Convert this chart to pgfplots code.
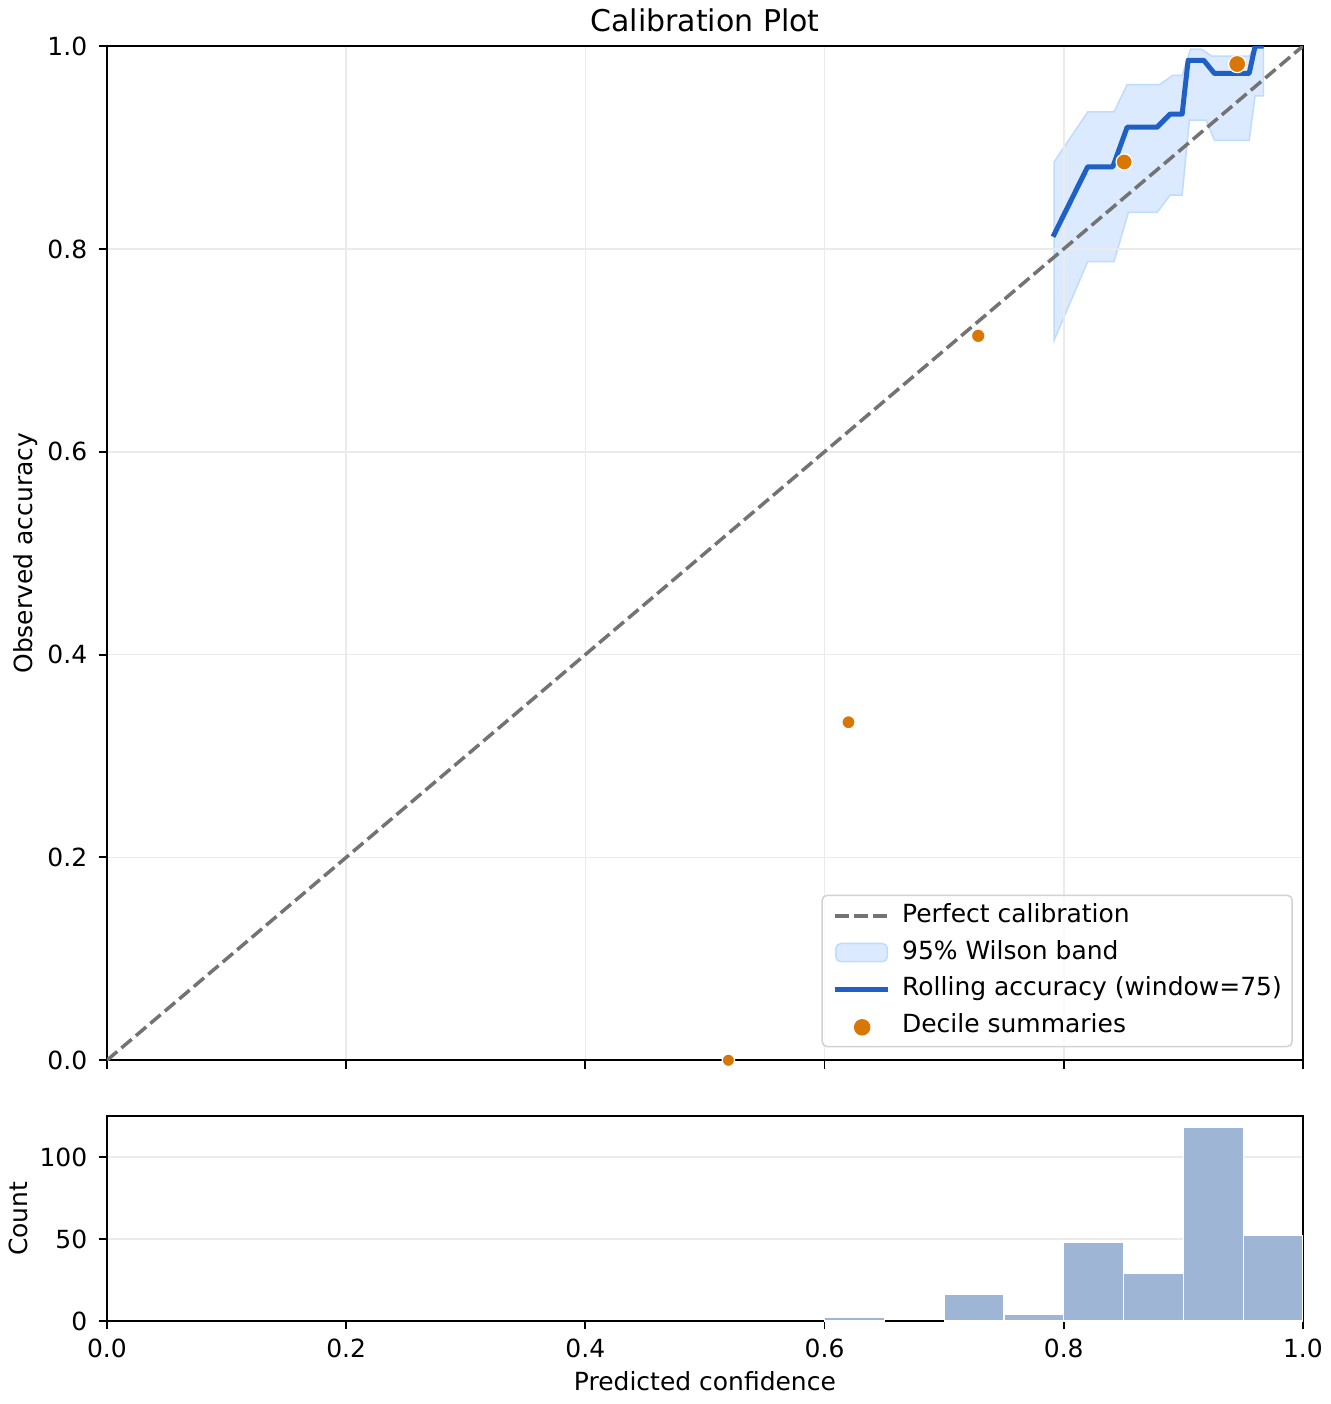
\documentclass[border=0pt]{standalone}
\usepackage{fontspec}
\setmainfont{DejaVu Sans}
\usepackage{pgfplots}
\pgfplotsset{compat=1.18}
\usepgfplotslibrary{fillbetween}
\definecolor{rollblue}{RGB}{30,96,196}
\definecolor{bandfill}{RGB}{219,234,254}
\definecolor{bandedge}{RGB}{191,219,254}
\definecolor{decor}{RGB}{217,119,6}
\definecolor{histc}{RGB}{158,181,213}
\definecolor{diag}{RGB}{115,115,115}
\definecolor{gridc}{RGB}{235,235,235}
\definecolor{legedge}{RGB}{210,210,210}
\pgfplotsset{
  layers/mylayers/.define layer set={axis background,axis grid,pre main,main,axis ticks,axis lines,axis tick labels,axis descriptions,axis foreground}{},
}
\begin{document}
\begin{tikzpicture}
\pgfplotsset{
  common/.style={
    set layers=mylayers,
    scale only axis, width=478.8pt,
    xmin=0, xmax=1,
    font=\fontsize{10pt}{12pt}\selectfont,
    tick align=outside, major tick length=3.3pt,
    tick pos=left,
    tick style={black, line width=0.75pt},
    axis line style={black, line width=0.75pt},
    grid style={gridc, line width=0.6pt},
    /pgf/number format/assume math mode=true,
    xtick={0,0.2,0.4,0.6,0.8,1},
    yticklabel style={anchor=east, inner sep=0pt, xshift=-4.4pt},
    xticklabel style={anchor=base, inner sep=0pt, yshift=-11.2pt},
  },
}
% ---------- histogram ----------
\begin{axis}[common,
  at={(0,0)}, anchor=south west,
  height=82pt,
  ymin=0, ymax=125,
  ytick={0,50,100}, yticklabels={0,50,100},
  xticklabels={0.0,0.2,0.4,0.6,0.8,1.0},
  ymajorgrids=true,
  xlabel={Predicted confidence},
  ylabel={Count},
  every axis x label/.style={at={([yshift=-27.9pt]axis description cs:0.5,0)}, anchor=base},
  every axis y label/.style={at={([xshift=-31.6pt]axis description cs:0,0.5)}, rotate=90, anchor=base},
]
\addplot[ybar, bar width=0.05, bar shift=0pt, fill=histc, draw=white, line width=0.5pt]
  coordinates {(0.625,2) (0.725,16) (0.775,4) (0.825,48) (0.875,29) (0.925,118) (0.975,52)};
\end{axis}
% ---------- calibration ----------
\begin{axis}[common,
  at={(0,104.4pt)}, anchor=south west,
  height=406pt,
  ymin=0, ymax=1,
  ytick={0,0.2,0.4,0.6,0.8,1},
  yticklabels={0.0,0.2,0.4,0.6,0.8,1.0},
  xticklabels={},
  grid=major,
  title={Calibration Plot},
  every axis title/.style={at={(axis description cs:0.5,1)}, anchor=base, yshift=6pt, font=\fontsize{12pt}{14pt}\selectfont},
  ylabel={Observed accuracy},
  every axis y label/.style={at={([xshift=-29.6pt]axis description cs:0,0.5)}, rotate=90, anchor=base},
  legend style={at={([xshift=-4.0pt,yshift=5.2pt]axis description cs:1,0)}, anchor=south east,
    draw=legedge, line width=0.6pt, rounded corners=2pt, fill=white, fill opacity=0.8, text opacity=1,
    inner xsep=4.2pt, inner ysep=3.4pt,
    nodes={inner sep=0pt, text height=7.6pt, text depth=2.2pt},
    row sep=4.85pt,
    /tikz/every odd column/.append style={column sep=4.6pt},
    font=\fontsize{10pt}{12pt}\selectfont},
  legend cell align=left,
]
\addlegendimage{legend image code/.code={\draw[diag, draw opacity=1, line width=1.4pt, dash pattern=on 5.4pt off 2.2pt] (0pt,0pt) -- (21.2pt,0pt);}}
\addlegendentry{Perfect calibration}
\addlegendimage{legend image code/.code={\draw[fill=bandfill, draw=bandedge, fill opacity=1, draw opacity=1, line width=0.6pt] (0.3pt,-3.65pt) rectangle (20.9pt,3.65pt);}}
\addlegendentry{95\% Wilson band}
\addlegendimage{legend image code/.code={\draw[rollblue, draw opacity=1, line width=2pt] (0pt,0pt) -- (21.2pt,0pt);}}
\addlegendentry{Rolling accuracy (window=75)}
\addlegendimage{legend image code/.code={\fill[decor, fill opacity=1] (10.8pt,-0.6pt) circle (3pt);}}
\addlegendentry{Decile summaries}

\addplot[draw=none, name path=up, forget plot] coordinates {
 (0.792,0.886) (0.820,0.935) (0.842,0.935) (0.853,0.962) (0.880,0.962) (0.891,0.971) (0.899,0.971)
 (0.906,0.997) (0.915,0.997) (0.924,0.990) (0.955,0.990) (0.960,1.000) (0.967,1.000)};
\addplot[draw=none, name path=lo, forget plot] coordinates {
 (0.792,0.710) (0.820,0.7875) (0.842,0.7875) (0.854,0.836) (0.878,0.836) (0.889,0.853) (0.899,0.853)
 (0.905,0.927) (0.919,0.927) (0.926,0.907) (0.955,0.907) (0.960,0.951) (0.967,0.951)};
\addplot[fill=bandfill, draw=bandedge, line width=0.6pt, forget plot] fill between[of=up and lo];

\addplot[diag, line width=1.4pt, dash pattern=on 5.4pt off 2.2pt, forget plot] coordinates {(0,0) (1,1)};

\addplot[rollblue, line width=2pt, line join=round, forget plot] coordinates {
 (0.791,0.812) (0.820,0.881) (0.841,0.881) (0.853,0.920) (0.878,0.920) (0.889,0.933) (0.899,0.933)
 (0.904,0.986) (0.917,0.986) (0.926,0.973) (0.955,0.973) (0.960,1.000) (0.967,1.000)};

\addplot[only marks, mark=*, mark size=2.5pt, mark options={fill=decor, draw=white, line width=0.5pt}, forget plot] coordinates {(0.5196,0.0)};
\addplot[only marks, mark=*, mark size=2.65pt, mark options={fill=decor, draw=white, line width=0.5pt}, forget plot] coordinates {(0.620,0.3333)};
\addplot[only marks, mark=*, mark size=2.75pt, mark options={fill=decor, draw=white, line width=0.5pt}, forget plot] coordinates {(0.7285,0.7143)};
\addplot[only marks, mark=*, mark size=3.25pt, mark options={fill=decor, draw=white, line width=0.5pt}, forget plot] coordinates {(0.8505,0.8857)};
\addplot[only marks, mark=*, mark size=3.45pt, mark options={fill=decor, draw=white, line width=0.5pt}, forget plot] coordinates {(0.945,0.9823)};
\end{axis}
\path[use as bounding box] (-42.8pt,-33.2pt) rectangle (490pt,528.4pt);
\end{tikzpicture}
\end{document}
